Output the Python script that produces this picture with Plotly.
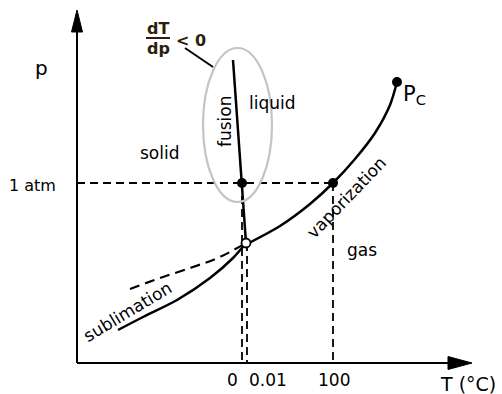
import plotly.graph_objects as go

# Schematic phase diagram of water (schematic units, origin at axes corner)
fusion_T = [156, 169]
fusion_p = [303, 120]

vap_T = [168, 203, 233, 256, 278, 298, 313, 320]
vap_p = [118, 137, 159, 180, 204, 230, 258, 281]

sub_T = [41, 66, 100, 133, 156, 169]
sub_p = [33, 46, 63, 85, 105, 120]

supercooled_T = [53, 83, 116, 143, 169]
supercooled_p = [74, 85, 96, 106, 120]

atm_p = 180
melt_T = 165
triple_T, triple_p = 169, 120
boil_T = 256
crit_T, crit_p = 320, 281

tick_T = [155, 191, 257]
tick_labels = ["0", "0.01", "100"]

FONT = "DejaVu Sans"
fig = go.Figure()

dash = "8px,5px"
# reference dashed lines
fig.add_trace(go.Scatter(x=[0, boil_T], y=[atm_p, atm_p], mode="lines",
                         line=dict(color="black", width=1.8, dash=dash), hoverinfo="skip"))
fig.add_trace(go.Scatter(x=[melt_T, melt_T], y=[atm_p, 0], mode="lines",
                         line=dict(color="black", width=1.8, dash=dash), hoverinfo="skip"))
fig.add_trace(go.Scatter(x=[triple_T + 1, triple_T + 1], y=[triple_p, 0], mode="lines",
                         line=dict(color="black", width=1.8, dash=dash), hoverinfo="skip"))
fig.add_trace(go.Scatter(x=[boil_T, boil_T], y=[atm_p, 0], mode="lines",
                         line=dict(color="black", width=1.8, dash=dash), hoverinfo="skip"))
fig.add_trace(go.Scatter(x=supercooled_T, y=supercooled_p, mode="lines",
                         line=dict(color="black", width=2.2, dash="10px,6px", shape="spline"),
                         hoverinfo="skip"))

# phase boundaries
fig.add_trace(go.Scatter(x=fusion_T, y=fusion_p, mode="lines",
                         line=dict(color="black", width=2.5), hoverinfo="skip"))
fig.add_trace(go.Scatter(x=vap_T, y=vap_p, mode="lines",
                         line=dict(color="black", width=2.5, shape="spline", smoothing=0.8),
                         hoverinfo="skip"))
fig.add_trace(go.Scatter(x=sub_T, y=sub_p, mode="lines",
                         line=dict(color="black", width=2.5, shape="spline", smoothing=0.8),
                         hoverinfo="skip"))

# points
fig.add_trace(go.Scatter(x=[melt_T, boil_T, crit_T], y=[atm_p, atm_p, crit_p], mode="markers",
                         marker=dict(color="black", size=10), hoverinfo="skip"))
fig.add_trace(go.Scatter(x=[triple_T], y=[triple_p], mode="markers",
                         marker=dict(color="white", size=9, line=dict(color="black", width=1.8)),
                         hoverinfo="skip"))

shapes = [
    # axes
    dict(type="line", x0=0, y0=0, x1=0, y1=335, line=dict(color="black", width=2)),
    dict(type="line", x0=0, y0=0, x1=378, y1=0, line=dict(color="black", width=2)),
    dict(type="path", path="M -5.5,331 L 0,353 L 5.5,331 Z", fillcolor="black",
         line=dict(color="black", width=1)),
    dict(type="path", path="M 371,6.5 L 395,0 L 371,-6.5 Z", fillcolor="black",
         line=dict(color="black", width=1)),
    # highlight ellipse
    dict(type="circle", x0=126, x1=195, y0=161, y1=315,
         line=dict(color="#c4c4c4", width=2.2)),
    # pointer line
    dict(type="line", x0=108, y0=315, x1=136, y1=296, line=dict(color="black", width=2)),
    # fraction bar
    dict(type="line", x0=69, y0=325, x1=93, y1=325, line=dict(color="#2e1f0c", width=2)),
]

def txt(x, y, s, size=17, angle=0, color="black"):
    return dict(x=x, y=y, text=s, showarrow=False, textangle=angle,
                font=dict(family=FONT, size=size, color=color))

ann = [
    txt(-36, 295, "p", 20),
    txt(-45, 178, "1 atm", 16),
    txt(83, 210, "solid", 17),
    txt(195, 260, "liquid", 17),
    txt(148, 242, "fusion", 17, -90),
    txt(269, 165, "vaporization", 17, -46),
    txt(285, 113, "gas", 17),
    txt(50, 51, "sublimation", 17, -31),
    txt(337, 268, "P<sub>C</sub>", 21),
    txt(391, -21, "T (°C)", 19),
    txt(81, 335, "<b>dT</b>", 16, color="#2e1f0c"),
    txt(81, 315, "<b>dp</b>", 16, color="#2e1f0c"),
    txt(114, 323, "<b>&lt; 0</b>", 16, color="#2e1f0c"),
]
for xv, lab in zip(tick_T, tick_labels):
    ann.append(txt(xv, -17, lab, 17))

fig.update_layout(
    width=502, height=394, margin=dict(l=0, r=0, t=0, b=0),
    paper_bgcolor="white", plot_bgcolor="white", showlegend=False,
    xaxis=dict(range=[-77, 425], visible=False, fixedrange=True),
    yaxis=dict(range=[-31, 363], visible=False, fixedrange=True),
    shapes=shapes, annotations=ann,
)

fig.write_html("out.html")
